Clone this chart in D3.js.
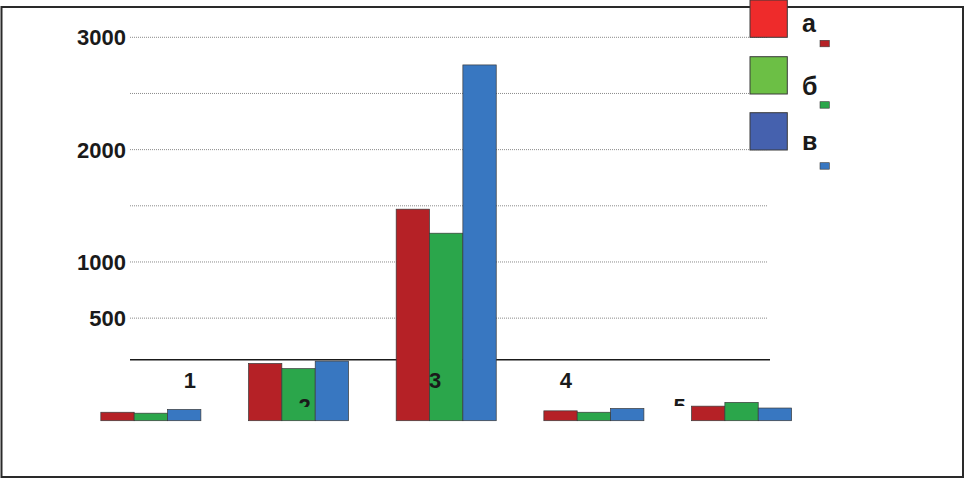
<!DOCTYPE html>
<html><head><meta charset="utf-8">
<script src="https://cdn.jsdelivr.net/npm/d3@7"></script>
<style>body{margin:0;background:#fff}svg{display:block}text{font-family:"Liberation Sans",Arial,sans-serif;font-weight:bold;fill:#1a1a1a}</style>
</head><body>
<script>
// ---- data ----
const categories = ["1","2","3","4","5"];
const seriesNames = ["а","б","в"];
const seriesA = [18, 122, 1470, 21, 31];
const seriesB = [16, 111, 1256, 18, 39];
const seriesC = [24, 127, 2754, 26, 27];
const tickValues = [500, 1000, 2000, 3000];
const gridValues = [500, 1000, 1500, 2000, 2500, 3000];
const breakValue = 130;

// ---- layout ----
const W = 964, H = 479;
const barColors = ["#b52126", "#2ba64b", "#3877c1"];
const legendColors = ["#ee2b2b", "#6cbf45", "#4561ae"];
const svg = d3.select("body").append("svg").attr("width", W).attr("height", H);

const x = d3.scaleBand().domain(categories).range([77.2, 815.2]).paddingInner(0.3225).paddingOuter(0.16);
const xs = d3.scaleBand().domain(d3.range(3)).range([0, x.bandwidth()]);
const yLow = d3.scaleLinear().domain([0, breakValue]).range([420.7, 359.7]);
const yUp = d3.scaleLinear().domain([breakValue, 3000]).range([359.7, 37.3]);
const y = v => v <= breakValue ? yLow(v) : yUp(v);

// frame
svg.append("rect").attr("x", 1.5).attr("y", 7).attr("width", 961.5).attr("height", 470)
  .attr("fill", "none").attr("stroke", "#2a2a2a").attr("stroke-width", 2);

// gridlines
svg.append("g").selectAll("line").data(gridValues).join("line")
  .attr("x1", 130).attr("x2", 768).attr("y1", d => y(d)).attr("y2", d => y(d))
  .attr("stroke", "#8a8a8a").attr("stroke-width", 1).attr("stroke-dasharray", "1,1");

// tick labels
svg.append("g").selectAll("text").data(tickValues).join("text")
  .attr("x", 126).attr("y", d => y(d) + 8).attr("text-anchor", "end")
  .attr("font-size", 22).text(d => d);

// break line
svg.append("line").attr("x1", 130).attr("x2", 770).attr("y1", y(breakValue)).attr("y2", y(breakValue))
  .attr("stroke", "#1a1a1a").attr("stroke-width", 1.5);

// category labels (layout offsets from group centre)
const labelDx = [39, 6, -11, -28, -62];
const labelY = [388, 414, 388, 388, 414];
const labelClip = [null, 407, null, null, 406];
const defs = svg.append("defs");
categories.forEach((c, i) => {
  if (labelClip[i] !== null) {
    defs.append("clipPath").attr("id", "lc" + i).append("rect")
      .attr("x", 0).attr("y", 0).attr("width", W).attr("height", labelClip[i]);
  }
});
const drawLabel = (i) => {
  const t = svg.append("text")
    .attr("x", x(categories[i]) + x.bandwidth() / 2 + labelDx[i])
    .attr("y", labelY[i]).attr("text-anchor", "middle").attr("font-size", 22).text(categories[i]);
  if (labelClip[i] !== null) t.attr("clip-path", `url(#lc${i})`);
};
[0, 3, 4].forEach(drawLabel);

// bars
const series = [seriesA, seriesB, seriesC];
const bars = [];
categories.forEach((c, i) => series.forEach((s, j) => bars.push({c, j, v: s[i]})));
svg.append("g").selectAll("rect").data(bars).join("rect")
  .attr("x", d => x(d.c) + xs(d.j)).attr("width", xs.bandwidth())
  .attr("y", d => y(d.v)).attr("height", d => y(0) - y(d.v))
  .attr("fill", d => barColors[d.j]).attr("stroke", "#3a3a3a").attr("stroke-width", 0.7);

// labels over bars
[1, 2].forEach(drawLabel);

// legend
const legY = [0, 56.7, 112.7];
const legTextY = [32, 95, 150];
const smallY = [40.3, 101.7, 162.7];
const lg = svg.append("g");
seriesNames.forEach((n, i) => {
  lg.append("rect").attr("x", 750).attr("y", legY[i]).attr("width", 37.3).attr("height", 37.3)
    .attr("fill", legendColors[i]).attr("stroke", "#3a3a3a").attr("stroke-width", 1);
  lg.append("text").attr("x", 802).attr("y", legTextY[i]).attr("font-size", 25).text(n);
  lg.append("rect").attr("x", 820).attr("y", smallY[i]).attr("width", 9.3).attr("height", 6.5)
    .attr("fill", barColors[i]).attr("stroke", "#3a3a3a").attr("stroke-width", 0.6);
});
</script>
</body></html>
